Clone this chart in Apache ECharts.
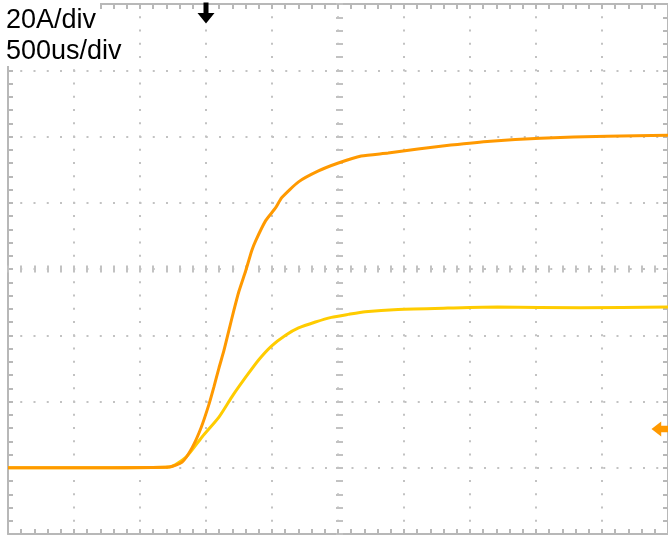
<!DOCTYPE html>
<html>
<head>
<meta charset="utf-8">
<script src="https://cdn.jsdelivr.net/npm/echarts@6/dist/echarts.min.js"></script>
<style>
  html, body { margin: 0; padding: 0; background: #fff; }
  #chart { width: 668px; height: 537px; }
</style>
</head>
<body>
<div id="chart"></div>
<script>
// scope scale: 500us/div across, 20A/div up, 0 A at the channel baseline
const timeUs = {
  orange: [0, 694, 1221, 1319, 1394, 1462, 1523, 1560, 1598, 1636, 1673, 1711, 1749, 1802, 1847, 1877, 1952, 2028, 2073, 2201, 2352, 2503, 2676, 2880, 3106, 3355, 3656, 4033, 4538, 5000],
  yellow: [0, 694, 1221, 1349, 1470, 1598, 1696, 1802, 1900, 1998, 2103, 2201, 2329, 2450, 2578, 2706, 2955, 3332, 3709, 4335, 5000]
};
const orangeAmps = [0, 0, 0.2, 1.7, 6.0, 12.0, 19.2, 24.4, 30.1, 35.4, 41.4, 47.5, 53.2, 59.6, 65.6, 68.6, 74.6, 78.5, 81.5, 86.3, 89.6, 92.0, 94.1, 95.0, 96.2, 97.4, 98.6, 99.5, 100.1, 100.4];
const yellowAmps = [0, 0, 0.2, 3.2, 9.3, 15.3, 21.4, 27.4, 32.6, 36.8, 40.0, 42.2, 44.0, 45.4, 46.3, 47.1, 47.8, 48.2, 48.5, 48.3, 48.5];

const scaleLabels = ['20A/div', '500us/div'];
const triggerUs = 1500;
const refMarkerAmps = 11.7;

const gridGray = '#c2c2c2';
const borderGray = '#b8b8b8';

const toPairs = (xs, ys) => xs.map((x, i) => [x, ys[i]]);

const myChart = echarts.init(document.getElementById('chart'));

const dotted = { type: [2, 11.25], dashOffset: 1, width: 2, color: gridGray };

function xAx(extra) {
  return Object.assign({
    type: 'value', min: 0, max: 5000, interval: 500,
    axisLabel: { show: false },
    axisLine: { show: true, onZero: false, lineStyle: { color: borderGray, width: 2 } },
    axisTick: { show: true, inside: true, length: 5, lineStyle: { color: borderGray, width: 2 } },
    minorTick: { show: true, splitNumber: 5, length: 5, lineStyle: { color: borderGray, width: 2 } },
    splitLine: { show: false }
  }, extra);
}
function yAx(extra) {
  return Object.assign({
    type: 'value', min: -20, max: 140, interval: 20,
    axisLabel: { show: false },
    axisLine: { show: true, onZero: false, lineStyle: { color: borderGray, width: 2 } },
    axisTick: { show: true, inside: true, length: 5, lineStyle: { color: borderGray, width: 2 } },
    minorTick: { show: true, splitNumber: 5, length: 5, lineStyle: { color: borderGray, width: 2 } },
    splitLine: { show: false }
  }, extra);
}

const option = {
  animation: false,
  backgroundColor: '#fff',
  grid: { left: 8, right: -3, top: 4, bottom: 3 },
  xAxis: [
    xAx({ position: 'bottom', splitLine: { show: true, lineStyle: dotted } }),
    xAx({ position: 'top' }),
    // centre graticule line: only cross ticks
    xAx({ position: 'bottom', offset: -261.5, axisLine: { show: false, onZero: false },
      axisTick: { show: true, inside: true, length: 7, lineStyle: { color: gridGray, width: 2 } },
      minorTick: { show: true, splitNumber: 5, length: 7, lineStyle: { color: gridGray, width: 2 } } })
  ],
  yAxis: [
    yAx({ position: 'left', splitLine: { show: true, lineStyle: dotted } }),
    yAx({ position: 'right' }),
    yAx({ position: 'left', offset: -328, axisLine: { show: false, onZero: false },
      axisTick: { show: true, inside: true, length: 7, lineStyle: { color: gridGray, width: 2 } },
      minorTick: { show: true, splitNumber: 5, length: 7, lineStyle: { color: gridGray, width: 2 } } })
  ],
  graphic: [
    { type: 'rect', z: 100, shape: { x: 0, y: 0, width: 100, height: 66 }, style: { fill: '#fff' } },
    { type: 'text', z: 101, left: 6, top: 7, style: { text: scaleLabels[0], fill: '#000', font: '27px "Liberation Sans", Arial, sans-serif' } },
    { type: 'text', z: 101, left: 6, top: 38, style: { text: scaleLabels[1], fill: '#000', font: '27px "Liberation Sans", Arial, sans-serif' } }
  ],
  series: [
    {
      name: 'yellow', type: 'line', xAxisIndex: 0, yAxisIndex: 0,
      data: toPairs(timeUs.yellow, yellowAmps),
      showSymbol: false, smooth: 0.2,
      lineStyle: { width: 3, color: '#ffcc00' }
    },
    {
      name: 'orange', type: 'line', xAxisIndex: 0, yAxisIndex: 0,
      data: toPairs(timeUs.orange, orangeAmps),
      showSymbol: false, smooth: 0.2,
      lineStyle: { width: 3, color: '#ff9900' },
      markPoint: {
        silent: true,
        label: { show: false },
        data: [
          { coord: [triggerUs, 140], symbol: 'path://M6,0 L11,0 L11,11 L17,11 L8.5,22 L0,11 L6,11 Z',
            symbolSize: [17, 21], symbolOffset: [0, 9], itemStyle: { color: '#000' } },
          { coord: [5000, refMarkerAmps], symbol: 'path://M0,7 L8,0 L8,4 L14,4 L14,10 L8,10 L8,14 Z',
            symbolSize: [17, 15], symbolOffset: [-8, 0], itemStyle: { color: '#ff9900' } }
        ]
      }
    }
  ]
};

myChart.setOption(option);
</script>
</body>
</html>
